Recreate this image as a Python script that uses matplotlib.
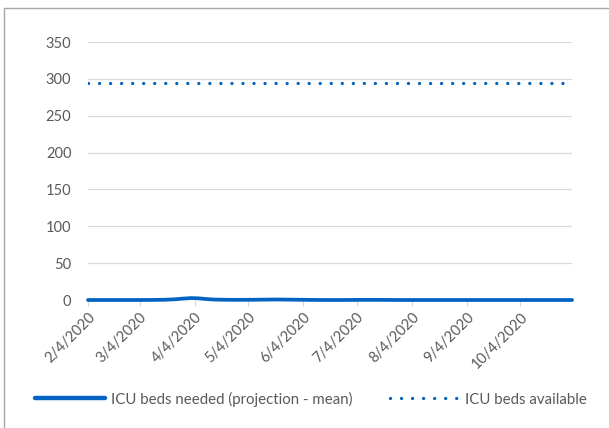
import matplotlib
matplotlib.use("Agg")
import matplotlib.pyplot as plt
from matplotlib.patches import Rectangle
from matplotlib.lines import Line2D
import numpy as np
import pandas as pd

# --- data ---
dates = ["2020-02-04", "2020-02-11", "2020-02-18", "2020-02-25", "2020-03-04",
         "2020-03-11", "2020-03-18", "2020-03-24", "2020-03-29", "2020-04-02",
         "2020-04-06", "2020-04-10", "2020-04-15", "2020-04-22", "2020-04-29",
         "2020-05-06", "2020-05-13", "2020-05-20", "2020-05-27", "2020-06-03",
         "2020-06-10", "2020-06-17", "2020-06-24", "2020-07-01", "2020-07-08",
         "2020-07-15", "2020-07-22", "2020-07-29", "2020-08-05", "2020-08-12",
         "2020-08-19", "2020-08-26", "2020-09-02", "2020-09-09", "2020-09-16",
         "2020-09-23", "2020-09-30", "2020-10-07", "2020-10-14", "2020-10-21",
         "2020-10-28", "2020-11-02"]
icu_needed = [0, 0, 0, 0, 0,
              0.1, 0.3, 1.0, 2.0, 2.6,
              2.3, 1.4, 0.6, 0.3, 0.2,
              0.3, 0.5, 0.7, 0.5, 0.3,
              0.1, 0.0, 0.0, 0.1, 0.2,
              0.2, 0.1, 0.0, 0.0, 0.0,
              0.0, 0.0, 0.0, 0.0, 0.0,
              0.0, 0.0, 0.0, 0.0, 0.0,
              0.0, 0.0]
icu_available = 294
tick_dates = ["2020-02-04", "2020-03-04", "2020-04-04", "2020-05-04", "2020-06-04",
              "2020-07-04", "2020-08-04", "2020-09-04", "2020-10-04"]
tick_labels = ["2/4/2020", "3/4/2020", "4/4/2020", "5/4/2020", "6/4/2020",
               "7/4/2020", "8/4/2020", "9/4/2020", "10/4/2020"]
series_labels = ["ICU beds needed (projection - mean)", "ICU beds available"]

plt.rcParams['font.family'] = ['Lato', 'DejaVu Sans']

blue = "#0563C1"
grey_text = "#595959"

x = pd.to_datetime(dates)
fig = plt.figure(figsize=(6.09, 4.28), dpi=100)
ax = fig.add_axes([88/609, 1-300/428, (572-88)/609, (300-42)/428])

ax.plot(x, icu_available * np.ones(len(x)), color=blue, lw=2.4,
        linestyle=(0, (0.01, 3.3)), dash_capstyle='round', zorder=3)
ax.plot(x, icu_needed, color=blue, lw=2.7, solid_capstyle='round', zorder=4,
        clip_on=False)

ax.set_ylim(0, 350)
ax.set_yticks(range(0, 351, 50))
ax.set_xlim(x[0], x[-1])
ax.set_xticks(pd.to_datetime(tick_dates))
ax.set_xticklabels(tick_labels, rotation=45, ha='right', va='top',
                   rotation_mode='anchor')
ax.grid(axis='y', color='#D9D9D9', lw=0.9)
ax.set_axisbelow(True)
for s in ax.spines.values():
    s.set_visible(False)
ax.tick_params(axis='y', length=0, pad=12, labelsize=10.5, labelcolor=grey_text)
ax.tick_params(axis='x', length=4, color='#D9D9D9', pad=3, labelsize=10.5,
               labelcolor=grey_text)

# outer chart border (cropped)
fig.patches.append(Rectangle((4/609, -0.1), 1.2, 1.1 - 8/428,
                             transform=fig.transFigure, fill=False,
                             edgecolor='#A6A6A6', lw=1.0))

handles = [Line2D([], [], color=blue, lw=3.2, solid_capstyle='round'),
           Line2D([], [], color=blue, lw=2.4, linestyle=(0, (0.01, 3.3)),
                  dash_capstyle='round')]
leg = fig.legend(handles, series_labels, loc='center', bbox_to_anchor=(311/609, 1-399/428),
                 ncol=2, frameon=False, fontsize=10.8, handlelength=4.7,
                 handletextpad=0.35, columnspacing=2.5)
for t in leg.get_texts():
    t.set_color(grey_text)

fig.savefig("out.png", dpi=100)
